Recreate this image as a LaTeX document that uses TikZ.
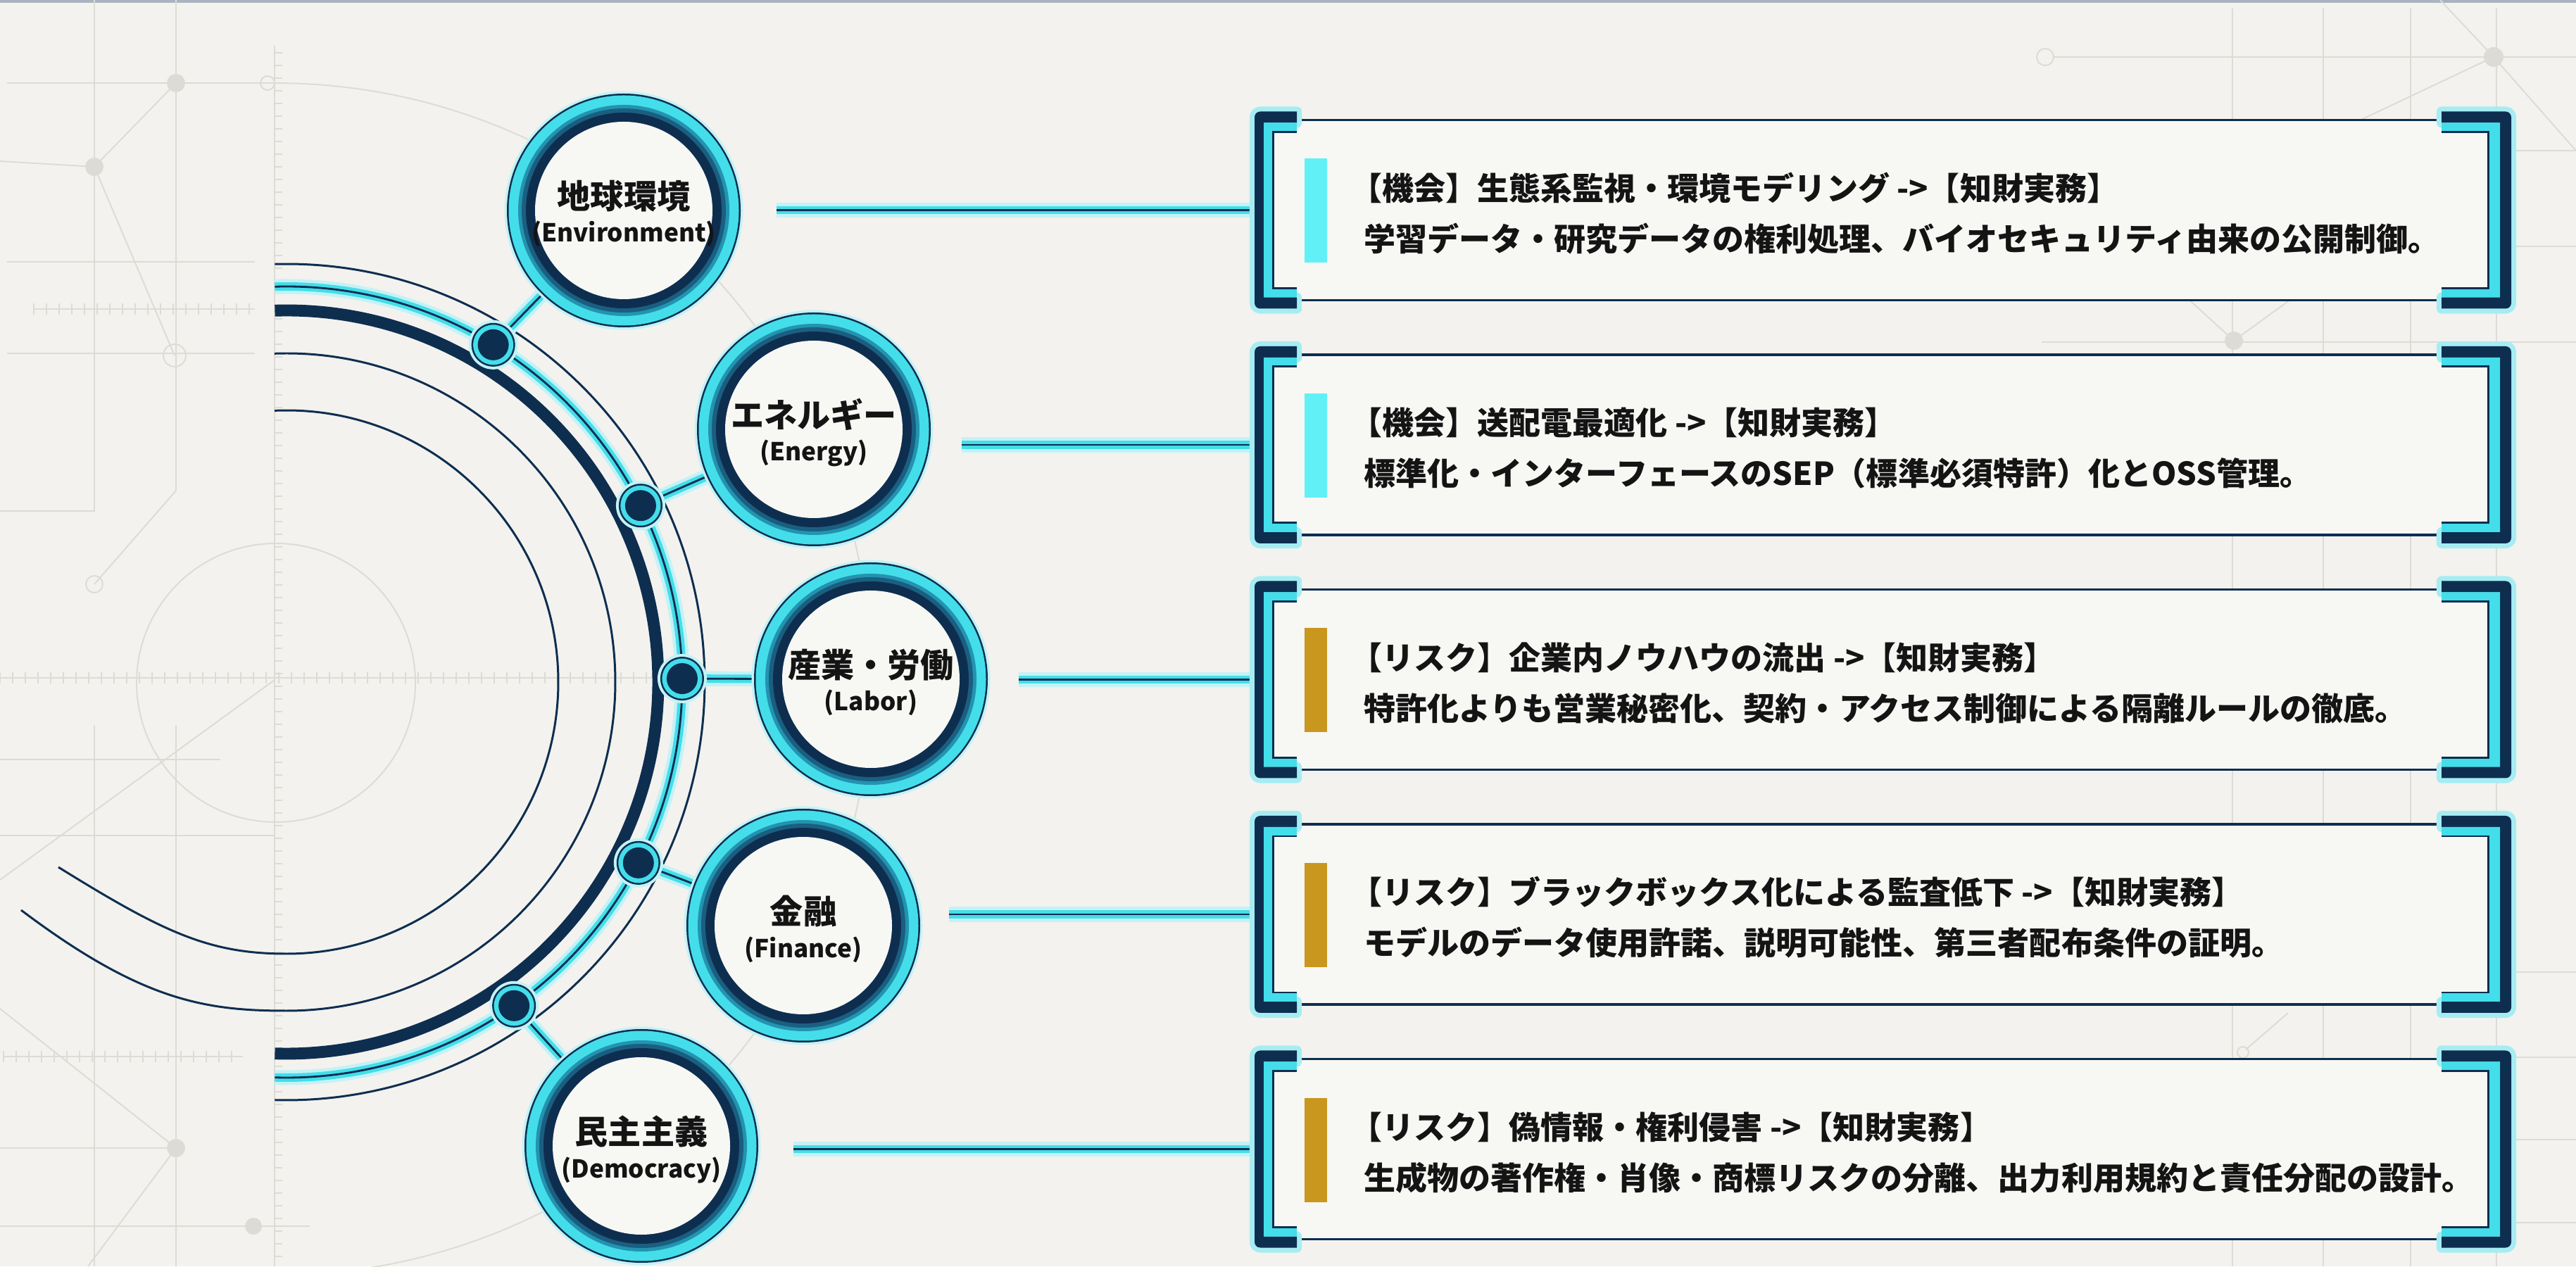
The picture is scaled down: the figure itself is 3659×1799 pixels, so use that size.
\documentclass[tikz,border=0pt]{standalone}
\usepackage{fontspec}
\setmainfont{Noto Sans CJK JP}
\definecolor{cBg}{HTML}{F3F2EE}
\definecolor{cTop}{HTML}{A9B4C0}
\definecolor{cNavy}{HTML}{0E2E50}
\definecolor{cCyan}{HTML}{43DEEA}
\definecolor{cGlow}{HTML}{C4F2F6}
\definecolor{cGlowB}{HTML}{A6EDF3}
\definecolor{cTealA}{HTML}{2393B0}
\definecolor{cTealB}{HTML}{1A5F80}
\definecolor{cFaint}{HTML}{DCDBD6}
\definecolor{cGold}{HTML}{C9971E}
\definecolor{cBar}{HTML}{62F0F7}
\definecolor{cInk}{HTML}{141414}
\definecolor{cIn}{HTML}{F7F7F4}
\newcommand\ringdeco[1]{%
 \fill[cGlow] (#1.center) circle (169.5);
 \fill[cNavy] (#1.center) circle (166);
 \fill[cCyan] (#1.center) circle (163.5);
 \fill[cTealA] (#1.center) circle (150);
 \fill[cTealB] (#1.center) circle (145);
 \fill[cNavy] (#1.center) circle (139);
 \fill[cIn] (#1.center) circle (126);}
\newcommand\dotdeco[1]{%
 \fill[cGlow] (#1.center) circle (35);
 \fill[cNavy] (#1.center) circle (31);
 \fill[cCyan] (#1.center) circle (28.5);
 \fill[cNavy] (#1.center) circle (22);}
\newcommand\boxdeco[2]{%
 \begin{scope}[shift={(0,#1)}]
 \fill[cIn] (1808,-128) rectangle (3534,128);
 \draw[cNavy, line width=0.9pt] (1842,128) -- (3468,128) (1842,-128) -- (3468,-128);
 \path[fill=cNavy, preaction={draw=cGlowB, line width=4pt, line join=round}]
   (1842,140) -- (1790,140) arc[start angle=90,end angle=180,radius=8] -- (1782,-132)
   arc[start angle=180,end angle=270,radius=8] -- (1842,-140) -- (1842,-124) -- (1795,-124)
   -- (1795,124) -- (1842,124) -- cycle;
 \fill[cCyan] (1842,124) -- (1795,124) -- (1795,-124) -- (1842,-124) -- (1842,-111)
   -- (1808,-111) -- (1808,111) -- (1842,111) -- cycle;
 \draw[cNavy, line width=0.85pt] (1842,111) -- (1808,111) -- (1808,-111) -- (1842,-111);
 \path[fill=cNavy, preaction={draw=cGlowB, line width=4pt, line join=round}]
   (3468,140) -- (3559,140) arc[start angle=90,end angle=0,radius=8] -- (3567,-132)
   arc[start angle=0,end angle=-90,radius=8] -- (3468,-140) -- (3468,-124) -- (3551,-124)
   -- (3551,124) -- (3468,124) -- cycle;
 \fill[cCyan] (3468,124) -- (3551,124) -- (3551,-124) -- (3468,-124) -- (3468,-111)
   -- (3534,-111) -- (3534,111) -- (3468,111) -- cycle;
 \draw[cNavy, line width=0.85pt] (3468,111) -- (3534,111) -- (3534,-111) -- (3468,-111);
 \fill[#2] (1853,-75) rectangle (1885,73);
 \end{scope}}
\begin{document}
\begin{tikzpicture}[x=0.01cm, y=0.01cm,
 faintln/.style={draw=cFaint, line width=0.55pt},
 faintdot/.style={fill=cFaint},
 conn/.style={draw=cNavy, line width=0.8pt, line cap=butt,
   preaction={draw=cGlow, line width=6pt},
   preaction={draw=cCyan, line width=3.4pt}},
 thinarc/.style={draw=cNavy, line width=0.85pt},
 thickarc/.style={draw=cNavy, line width=4.8pt},
 hub/.style={circle, minimum size=3.32cm, inner sep=0pt},
 dotn/.style={circle, minimum size=0.62cm, inner sep=0pt},
 boxn/.style={rectangle, minimum width=17.85cm, minimum height=2.8cm, inner sep=0pt},
 ttl/.style={anchor=base, inner sep=0pt, text=cInk, font=\fontsize{13.4pt}{16pt}\selectfont\bfseries},
 sub/.style={anchor=base, inner sep=0pt, text=cInk, font=\fontsize{10pt}{12pt}\selectfont\bfseries},
 boxtxt/.style={anchor=base west, inner sep=0pt, text=cInk, font=\fontsize{12.8pt}{15pt}\selectfont\bfseries}]
\useasboundingbox (0,0) rectangle (3659,1799);
\fill[cBg] (0,0) rectangle (3659,1799);
\fill[cTop] (0,1795) rectangle (3659,1799);
% ---------- faint background pattern ----------
\draw[faintln] (10,1681) -- (390,1681);
\draw[faintln] (0,1570) -- (134,1562) -- (250,1681);
\draw[faintln] (134,1562) -- (248,1294);
\draw[faintln] (248,1294) circle (16);
\draw[faintln] (134,1799) -- (134,1073) -- (0,1073);
\draw[faintln] (250,1799) -- (250,1102) -- (134,969);
\draw[faintln] (134,969) circle (12);
\fill[faintdot] (250,1681) circle (13);
\fill[faintdot] (134,1562) circle (13);
\draw[faintln] (380,1681) circle (10);
\draw[faintln] (10,1427) -- (362,1427);
\draw[faintln] (10,1297) -- (362,1297);
\draw[faintln] (48,1360) -- (362,1360);
\foreach \t in {0,...,17} \draw[faintln] ({48+18*\t},1352) -- ({48+18*\t},1368);
\draw[faintln] (390,1734) -- (390,0);
\foreach \t in {0,...,95} \draw[faintln] (390,{1724-18*\t}) -- (401,{1724-18*\t});
\draw[faintln] (0,836) -- (930,836);
\foreach \t in {0,...,51} \draw[faintln] ({18*\t},828) -- ({18*\t},844);
\draw[faintln] (392,829) circle (198);
\draw[faintln] (390,834) ++(90:847) arc[start angle=90,end angle=-82,radius=847];
\draw[faintln] (0,720) -- (313,720);
\draw[faintln] (0,612) -- (390,612);
\draw[faintln] (134,768) -- (134,0);
\draw[faintln] (250,768) -- (250,0);
\draw[faintln] (0,549) -- (390,833);
\draw[faintln] (0,366) -- (250,168) -- (125,0);
\fill[faintdot] (250,168) circle (13);
\draw[faintln] (5,298) -- (345,298);
\foreach \t in {0,...,18} \draw[faintln] ({5+18*\t},290) -- ({5+18*\t},306);
\draw[faintln] (0,168) -- (250,168);
\draw[faintln] (0,57) -- (440,57);
\fill[faintdot] (360,57) circle (12);
% right side
\foreach \xx in {3171,3300,3424,3546} \draw[faintln] (\xx,1787) -- (\xx,0);
\draw[faintln] (2917,1718) -- (3659,1718);
\draw[faintln] (2905,1718) circle (12);
\fill[faintdot] (3542,1718) circle (14);
\draw[faintln] (3466,1799) -- (3542,1718) -- (3659,1585);
\draw[faintln] (3542,1718) -- (3250,1580);
\draw[faintln] (3567,1585) -- (3659,1585);
\draw[faintln] (3567,1449) -- (3659,1449);
\draw[faintln] (2900,1313) -- (3659,1313);
\fill[faintdot] (3173,1315) circle (13);
\draw[faintln] (3080,1400) -- (3173,1315) -- (3290,1400);
\foreach \yy in {418,297,180,62} \draw[faintln] (3567,\yy) -- (3659,\yy);
\draw[faintln] (3250,360) -- (3190,308);
\draw[faintln] (3186,304) circle (8);
% ---------- concentric arcs ----------
\draw[thinarc] (407,830) ++(91.6:594) arc[start angle=91.6,end angle=-91.6,radius=594];
\draw[thickarc] (407,830) ++(91.8:528) arc[start angle=91.8,end angle=-91.8,radius=528];
\draw[thinarc] (407,830) ++(92.1:467) arc[start angle=92.1,end angle=-90,radius=467]
   .. controls (290,363) and (200,378) .. (30,506);
\draw[thinarc] (407,830) ++(92.5:386) arc[start angle=92.5,end angle=-90,radius=386]
   .. controls (297,444) and (233,474) .. (83,567);
\draw[conn] (407,830) ++(91.7:562) arc[start angle=91.7,end angle=-91.7,radius=562];
% ---------- nodes ----------
\node[hub] (c1) at (886,1500) {};
\node[hub] (c2) at (1156,1189) {};
\node[hub] (c3) at (1237,834) {};
\node[hub] (c4) at (1141,484) {};
\node[hub] (c5) at (911,171) {};
\node[dotn] (d1) at ([shift={(407,830)}]58.5:562) {};
\node[dotn] (d2) at ([shift={(407,830)}]26.5:562) {};
\node[dotn] (d3) at ([shift={(407,830)}]0.5:562) {};
\node[dotn] (d4) at ([shift={(407,830)}]-27.2:562) {};
\node[dotn] (d5) at ([shift={(407,830)}]-54.9:562) {};
\node[boxn] (b1) at (2674.5,1500.5) {};
\node[boxn] (b2) at (2674.5,1167) {};
\node[boxn] (b3) at (2674.5,833.5) {};
\node[boxn] (b4) at (2674.5,500) {};
\node[boxn] (b5) at (2674.5,166.5) {};
\coordinate (l1) at (1103,1500.5);
\coordinate (l2) at (1366,1167);
\coordinate (l3) at (1447,833.5);
\coordinate (l4) at (1348,500);
\coordinate (l5) at (1127,166.5);
% ---------- connectors ----------
\foreach \i in {1,...,5} {
 \draw[conn] (d\i) -- (c\i);
 \draw[conn] (l\i) -- (b\i.west);
}
% ---------- decorations ----------
\foreach \i in {1,...,5} {\dotdeco{d\i}}
\foreach \i in {1,...,5} {\ringdeco{c\i}}
\boxdeco{1500.5}{cBar}
\boxdeco{1167}{cBar}
\boxdeco{833.5}{cGold}
\boxdeco{500}{cGold}
\boxdeco{166.5}{cGold}
% ---------- circle labels ----------
\node[ttl] (c1a) at (886,1502) {地球環境};
\node[sub] (c1b) at (886,1455) {(Environment)};
\node[ttl] (c2a) at (1156,1191) {エネルギー};
\node[sub] (c2b) at (1156,1144) {(Energy)};
\node[ttl] (c3a) at (1237,836) {産業・労働};
\node[sub] (c3b) at (1237,789) {(Labor)};
\node[ttl] (c4a) at (1141,486) {金融};
\node[sub] (c4b) at (1141,439) {(Finance)};
\node[ttl] (c5a) at (911,173) {民主主義};
\node[sub] (c5b) at (911,126) {(Democracy)};
% ---------- box texts ----------
\node[boxtxt] (ta1) at (1937,1514.5) {\kern-.42em【機会】生態系監視・環境モデリング ->【知財実務】};
\node[boxtxt] (tb1) at (1937,1442.5) {学習データ・研究データの権利処理、バイオセキュリティ由来の公開制御。};
\node[boxtxt] (ta2) at (1937,1181) {\kern-.42em【機会】送配電最適化 ->【知財実務】};
\node[boxtxt] (tb2) at (1937,1109) {標準化・インターフェースのSEP（標準必須特許）化とOSS管理。};
\node[boxtxt] (ta3) at (1937,847.5) {\kern-.42em【リスク】企業内ノウハウの流出 ->【知財実務】};
\node[boxtxt] (tb3) at (1937,775.5) {特許化よりも営業秘密化、契約・アクセス制御による隔離ルールの徹底。};
\node[boxtxt] (ta4) at (1937,514) {\kern-.42em【リスク】ブラックボックス化による監査低下 ->【知財実務】};
\node[boxtxt] (tb4) at (1937,442) {モデルのデータ使用許諾、説明可能性、第三者配布条件の証明。};
\node[boxtxt] (ta5) at (1937,180.5) {\kern-.42em【リスク】偽情報・権利侵害 ->【知財実務】};
\node[boxtxt] (tb5) at (1937,108.5) {生成物の著作権・肖像・商標リスクの分離、出力利用規約と責任分配の設計。};
\end{tikzpicture}
\end{document}
